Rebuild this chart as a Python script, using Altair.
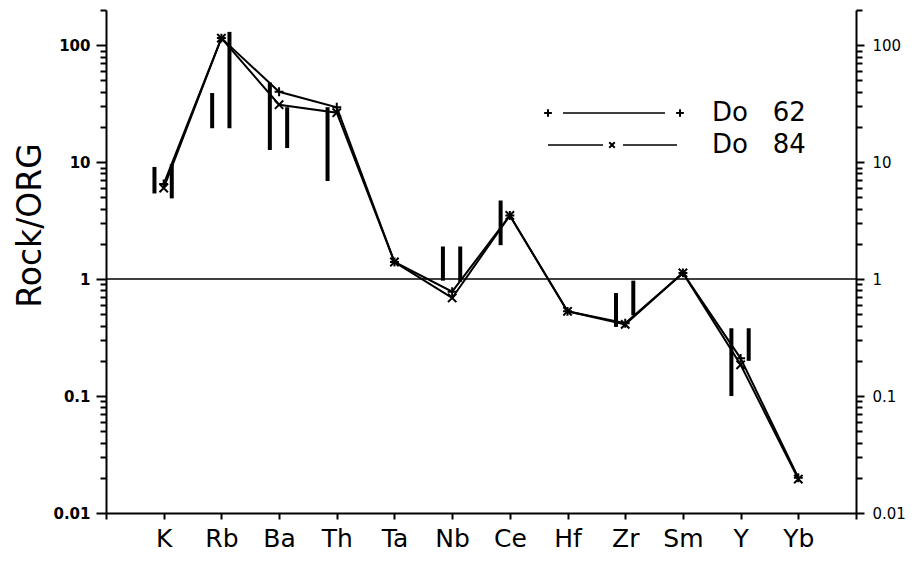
import altair as alt
import pandas as pd

elements = ["K", "Rb", "Ba", "Th", "Ta", "Nb", "Ce", "Hf", "Zr", "Sm", "Y", "Yb"]
do62 = [6.5, 115, 40, 29.5, 1.4, 0.78, 3.5, 0.53, 0.42, 1.13, 0.21, 0.02]
do84 = [6.0, 115, 31, 26.5, 1.4, 0.69, 3.5, 0.53, 0.41, 1.13, 0.185, 0.0195]

bar_element = ["K", "K", "Rb", "Rb", "Ba", "Ba", "Th", "Nb", "Nb", "Ce", "Zr", "Zr", "Y", "Y"]
bar_side = ["a", "b", "a", "b", "a", "b", "a", "a", "b", "a", "a", "b", "a", "b"]
bar_low = [5.4, 4.9, 19.5, 19.5, 12.7, 13.2, 6.9, 0.97, 0.95, 1.95, 0.39, 0.49, 0.10, 0.20]
bar_high = [9.1, 9.6, 39, 130, 48, 29.5, 29.5, 1.9, 1.9, 4.7, 0.76, 0.97, 0.38, 0.38]

major_ticks = [0.01, 0.1, 1, 10, 100]
major_labels = ["0.01", "0.1", "1", "10", "100"]

NBSP = "\u00a0"
legend_labels = ["Do" + NBSP * 3 + "62", "Do" + NBSP * 3 + "84"]

# ---- tables built from the arrays ----
rows = []
for i, e in enumerate(elements):
    rows.append({"el": e, "pos": i + 1, "series": "Do 62", "v": do62[i]})
    rows.append({"el": e, "pos": i + 1, "series": "Do 84", "v": do84[i]})
df = pd.DataFrame(rows)

bars = pd.DataFrame({"el": bar_element, "side": bar_side, "lo": bar_low, "hi": bar_high})
bars["pos"] = [elements.index(e) + 1 for e in bar_element]

tick_vals = []
for k in range(-2, 3):
    for m in range(1, 10):
        v = round(m * 10 ** k, 6)
        if v <= 200:
            tick_vals.append(v)
tick_vals.append(200)

lab_expr = " : ".join(
    [f"abs(datum.value - {v}) < {v / 1000} ? '{s}'" for v, s in zip(major_ticks, major_labels)]
) + " : ''"
major_test = "abs(log(datum.value)/LN10 - round(log(datum.value)/LN10)) < 0.001"

js_el = "[" + ",".join(f"'{e}'" for e in elements) + "]"
x_lab = f"datum.value >= 1 && datum.value <= 12 ? {js_el}[datum.value - 1] : ''"

xscale = alt.Scale(domain=[0, 13], nice=False, zero=False)
yscale = alt.Scale(type="log", domain=[0.01, 200], nice=False)

xaxis = alt.Axis(values=list(range(0, 14)), labelExpr=x_lab, title=None, tickSize=6,
                 labelFont="DejaVu Sans", labelFontSize=25, labelPadding=7,
                 labelFontWeight="normal", domainWidth=2, tickWidth=2)
yaxis_left = alt.Axis(values=tick_vals, labelExpr=lab_expr, orient="left",
                      tickSize={"condition": {"test": major_test, "value": 10}, "value": 6},
                      labelFont="DejaVu Sans", labelFontSize=15, labelFontWeight="bold",
                      labelPadding=6, title="Rock/ORG", titleFont="DejaVu Sans",
                      titleFontSize=33, titleFontWeight="normal", titleAngle=270,
                      titleX=-66, titleY=215, titleAlign="center", titleBaseline="alphabetic",
                      domainWidth=2, tickWidth=2, labelFlush=False)
yaxis_right = alt.Axis(values=tick_vals, labelExpr=lab_expr, orient="right",
                       tickSize={"condition": {"test": major_test, "value": 8}, "value": 6},
                       labelFont="DejaVu Sans", labelFontSize=15, labelFontWeight="normal",
                       labelPadding=8, title=None, domainWidth=2, tickWidth=2, labelFlush=False)

bar_layer = alt.Chart(bars).transform_calculate(
    bx="datum.pos + (datum.side == 'a' ? -0.16 : 0.14)"
).mark_rule(strokeWidth=4, color="black").encode(
    x=alt.X("bx:Q", scale=xscale, axis=xaxis),
    y=alt.Y("lo:Q", scale=yscale, axis=yaxis_left),
    y2="hi:Q",
)

line_layer = alt.Chart(df).mark_line(color="black", strokeWidth=2).encode(
    x=alt.X("pos:Q", scale=xscale, axis=xaxis),
    y=alt.Y("v:Q", scale=yscale, axis=yaxis_left),
    detail="series:N",
)

plus_path = "M-1,0H1M0,-1V1"
cross_path = "M-1,-1L1,1M-1,1L1,-1"

p62 = alt.Chart(df).transform_filter("datum.series == 'Do 62'").mark_point(
    shape=plus_path, size=80, filled=False, color="black", strokeWidth=2, opacity=1
).encode(x=alt.X("pos:Q", scale=xscale, axis=xaxis), y=alt.Y("v:Q", scale=yscale, axis=yaxis_left))

p84 = alt.Chart(df).transform_filter("datum.series == 'Do 84'").mark_point(
    shape=cross_path, size=70, filled=False, color="black", strokeWidth=2, opacity=1
).encode(x=alt.X("pos:Q", scale=xscale, axis=xaxis), y=alt.Y("v:Q", scale=yscale, axis=yaxis_left))

one = pd.DataFrame({"a": [0]})
leg = [
    alt.Chart(one).mark_point(shape=plus_path, size=60, filled=False, color="black",
                              strokeWidth=2, opacity=1).encode(x=alt.value(442), y=alt.value(103)),
    alt.Chart(one).mark_rule(color="black", strokeWidth=1.5).encode(
        x=alt.value(457), x2=alt.value(559), y=alt.value(103)),
    alt.Chart(one).mark_point(shape=plus_path, size=60, filled=False, color="black",
                              strokeWidth=2, opacity=1).encode(x=alt.value(574), y=alt.value(103)),
    alt.Chart(one).mark_text(text=legend_labels[0], align="left", baseline="middle", font="DejaVu Sans",
                             fontSize=26, color="black").encode(x=alt.value(606), y=alt.value(103)),
    alt.Chart(one).mark_rule(color="black", strokeWidth=1.5).encode(
        x=alt.value(442), x2=alt.value(497), y=alt.value(135)),
    alt.Chart(one).mark_point(shape=cross_path, size=30, filled=False, color="black",
                              strokeWidth=2, opacity=1).encode(x=alt.value(506), y=alt.value(135)),
    alt.Chart(one).mark_rule(color="black", strokeWidth=1.5).encode(
        x=alt.value(517), x2=alt.value(571), y=alt.value(135)),
    alt.Chart(one).mark_text(text=legend_labels[1], align="left", baseline="middle", font="DejaVu Sans",
                             fontSize=26, color="black").encode(x=alt.value(606), y=alt.value(135)),
]

main = alt.layer(bar_layer, line_layer, p62, p84, *leg)

unity = alt.Chart(pd.DataFrame({"v": [1]})).mark_rule(color="black", strokeWidth=1.5).encode(
    y=alt.Y("v:Q", scale=yscale, axis=yaxis_right)
)

chart = alt.layer(main, unity).resolve_scale(y="independent").properties(
    width=750, height=503,
    autosize=alt.AutoSizeParams(type="none"),
    padding={"left": 98, "top": 2, "right": 50, "bottom": 41},
    background="white",
).configure_view(stroke=None).configure_axis(
    domainColor="black", tickColor="black", labelColor="black", titleColor="black", grid=False
)

chart.save("out.html", embed_options={"renderer": "svg", "actions": False})
